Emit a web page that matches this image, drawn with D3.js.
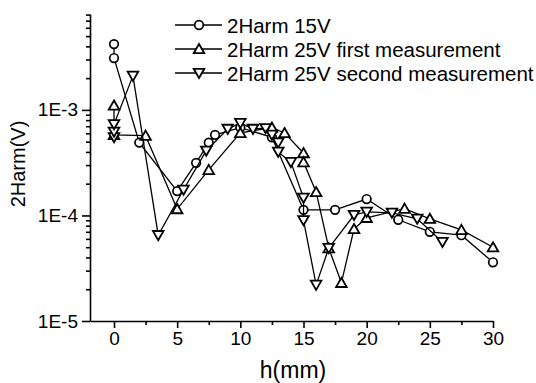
<!DOCTYPE html>
<html><head><meta charset="utf-8">
<script src="https://cdn.jsdelivr.net/npm/d3@7"></script>
<style>body{margin:0;background:#fff} svg text{font-family:Arial,"Liberation Sans",sans-serif;fill:#000}</style>
</head><body><svg id="c" width="536" height="383"></svg>
<script>
// ---- data ----
const xTickValues = [0, 5, 10, 15, 20, 25, 30];
const xMinorTicks = [2.5, 7.5, 12.5, 17.5, 22.5, 27.5];
const yTickValues = [1e-5, 1e-4, 1e-3];
const yTickLabels = ["1E-5", "1E-4", "1E-3"];
const seriesNames = ["2Harm 15V", "2Harm 25V first measurement", "2Harm 25V second measurement"];
const seriesSymbols = ["circle", "up", "down"];

const h15 = [0, 0, 2, 5, 6.5, 7.5, 8, 10, 12.5, 15, 17.5, 20, 22.5, 25, 27.5, 30];
const v15 = [4.2e-3, 3.1e-3, 4.9e-4, 1.7e-4, 3.15e-4, 4.9e-4, 5.8e-4, 6.8e-4, 5.5e-4, 1.13e-4, 1.13e-4, 1.43e-4, 9.1e-5, 7.0e-5, 6.5e-5, 3.6e-5];

const h25a = [0, 0, 2.5, 5, 7.5, 10, 12.5, 13.5, 15, 15, 16, 17, 18, 19, 20, 23, 25, 27.5, 30];
const v25a = [1.1e-3, 5.8e-4, 5.7e-4, 1.15e-4, 2.7e-4, 6.05e-4, 6.8e-4, 6.05e-4, 3.9e-4, 3.2e-4, 1.67e-4, 4.9e-5, 2.3e-5, 7.45e-5, 9.5e-5, 1.16e-4, 9.3e-5, 7.3e-5, 5.0e-5];

const h25b = [0, 0, 0, 1.5, 3.5, 5.5, 7.3, 9, 10, 11, 12, 12.5, 13, 13, 14, 15, 15, 16, 17, 19, 20, 22, 24, 26];
const v25b = [5.5e-4, 6.2e-4, 7.3e-4, 2.1e-3, 6.5e-5, 1.75e-4, 4.1e-4, 6.6e-4, 7.5e-4, 6.6e-4, 6.7e-4, 5.8e-4, 4.9e-4, 4.0e-4, 3.2e-4, 1.47e-4, 9.0e-5, 2.2e-5, 4.9e-5, 1.01e-4, 1.08e-4, 1.06e-4, 9.3e-5, 5.6e-5];

const seriesX = [h15, h25a, h25b];
const seriesV = [v15, v25a, v25b];

// ---- drawing ----
const svg = d3.select("#c");
const x = d3.scaleLinear().domain([-1.9, 30]).range([90, 493]);
const y = d3.scaleLog().domain([1e-5, 8.1e-3]).range([321, 14]);

const yMinor = [];
[1e-5, 1e-4, 1e-3].forEach(b => { for (let k = 2; k <= 9; k++) { const v = b * k; if (v <= 8.1e-3) yMinor.push(v); } });

function styleAxis(g) {
  g.selectAll("path.domain").attr("stroke", "#000").attr("stroke-width", 1.6);
  g.selectAll(".tick line").attr("stroke", "#000").attr("stroke-width", 1.6);
}

// x axis
const gx = svg.append("g").attr("transform", "translate(0,321)")
  .call(d3.axisBottom(x).tickValues(xTickValues).tickSize(7).tickSizeOuter(0).tickPadding(4));
gx.selectAll("text").attr("font-size", 19);
styleAxis(gx);
const gxm = svg.append("g").attr("transform", "translate(0,321)")
  .call(d3.axisBottom(x).tickValues(xMinorTicks).tickSize(4).tickSizeOuter(0).tickFormat(""));
gxm.select("path.domain").remove();
styleAxis(gxm);

// y axis
const gy = svg.append("g").attr("transform", "translate(90,0)")
  .call(d3.axisLeft(y).tickValues(yTickValues).tickFormat((d, i) => yTickLabels[i]).tickSize(8).tickSizeOuter(0).tickPadding(4));
gy.selectAll("text").attr("font-size", 19);
styleAxis(gy);
const gym = svg.append("g").attr("transform", "translate(90,0)")
  .call(d3.axisLeft(y).tickValues(yMinor).tickSize(4).tickSizeOuter(0).tickFormat(""));
gym.select("path.domain").remove();
styleAxis(gym);

// axis titles
svg.append("text").attr("x", 293).attr("y", 378).attr("text-anchor", "middle").attr("font-size", 23).text("h(mm)");
svg.append("text").attr("transform", "translate(25,164) rotate(-90)").attr("text-anchor", "middle").attr("font-size", 20).text("2Harm(V)");

// symbols
function drawSymbol(g, type, cx, cy) {
  if (type === "circle") {
    g.append("circle").attr("cx", cx).attr("cy", cy).attr("r", 4.3)
      .attr("fill", "#fff").attr("stroke", "#000").attr("stroke-width", 1.7);
  } else {
    const s = type === "up" ? 1 : -1;
    g.append("path").attr("d", `M${cx},${cy - 5 * s} L${cx + 5.3},${cy + 4.2 * s} L${cx - 5.3},${cy + 4.2 * s} Z`)
      .attr("fill", "#fff").attr("stroke", "#000").attr("stroke-width", 1.8).attr("stroke-linejoin", "miter");
  }
}

const line = d3.line().x(d => x(d[0])).y(d => y(d[1]));
seriesX.forEach((xs, si) => {
  const pts = xs.map((h, i) => [h, seriesV[si][i]]);
  const g = svg.append("g");
  g.append("path").attr("d", line(pts)).attr("fill", "none").attr("stroke", "#000").attr("stroke-width", 1.3);
  pts.forEach(p => drawSymbol(g, seriesSymbols[si], x(p[0]), y(p[1])));
});

// legend
const legendY = [25, 49, 73];
seriesNames.forEach((name, i) => {
  const g = svg.append("g");
  const ly = legendY[i];
  g.append("line").attr("x1", 175).attr("x2", 222).attr("y1", ly).attr("y2", ly).attr("stroke", "#000").attr("stroke-width", 1.3);
  drawSymbol(g, seriesSymbols[i], 199, ly);
  g.append("text").attr("x", 227).attr("y", ly + 7.5).attr("font-size", 20.5).text(name);
});
</script></body></html>
